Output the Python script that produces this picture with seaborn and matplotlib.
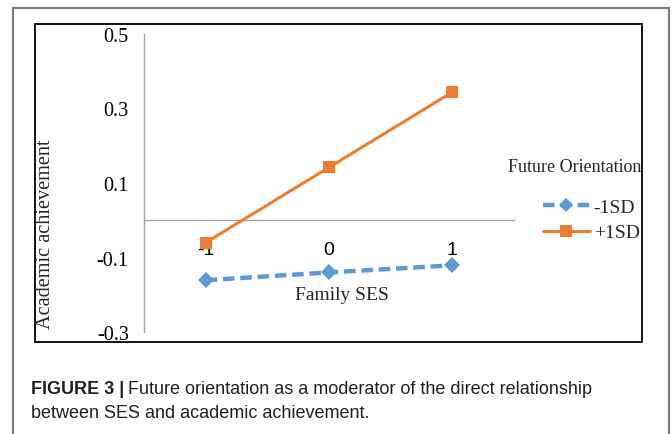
import pandas as pd
import matplotlib
matplotlib.use("Agg")
import matplotlib.pyplot as plt
import seaborn as sns
from matplotlib.patches import Rectangle
from matplotlib.lines import Line2D

# data
family_ses = [-1, 0, 1]
low_fo = [-0.161, -0.140, -0.121]    # -1SD
high_fo = [-0.060, 0.142, 0.344]     # +1SD
series_names = ["-1SD", "+1SD"]
y_ticks = [0.5, 0.3, 0.1, -0.1, -0.3]
y_tick_labels = ["0.5", "0.3", "0.1", "-0.1", "-0.3"]

blue = "#5B9BD5"
orange = "#ED7D31"
axis_gray = "#A6A6A6"

df = pd.DataFrame({
    "ses": family_ses * 2,
    "ach": low_fo + high_fo,
    "group": [series_names[0]] * 3 + [series_names[1]] * 3,
})

sns.set_theme(style="white")
serif = ["Liberation Serif", "DejaVu Serif"]
sans = ["Liberation Sans", "DejaVu Sans"]

W, H = 672, 435
fig = plt.figure(figsize=(W / 100, H / 100), dpi=100)
fig.patch.set_facecolor("white")

def fx(px):
    return px / W

def fy(py):
    return 1 - py / H

# axes placed in pixels: x -1.5..1.5 -> 144..514, y -0.3..0.5 -> 333..35
ax = fig.add_axes([fx(144), fy(333), fx(514) - fx(144), (333 - 35) / H])
ax.set_facecolor("none")

sns.lineplot(data=df[df.group == "-1SD"], x="ses", y="ach", ax=ax,
             color=blue, lw=3.2, marker="D", markersize=8,
             markeredgewidth=0, legend=False)
ax.lines[-1].set_dashes((2.6, 1.3))
sns.lineplot(data=df[df.group == "+1SD"], x="ses", y="ach", ax=ax,
             color=orange, lw=2.2, marker="s", markersize=9,
             markeredgewidth=0, legend=False)

ax.set_xlim(-1.5, 1.5)
ax.set_ylim(-0.3, 0.5)
ax.set_xlabel("")
ax.set_ylabel("")

for s in ["top", "right"]:
    ax.spines[s].set_visible(False)
ax.spines["left"].set_color(axis_gray)
ax.spines["left"].set_linewidth(1.0)
ax.spines["bottom"].set_position(("data", 0))
ax.spines["bottom"].set_color(axis_gray)
ax.spines["bottom"].set_linewidth(1.0)
ax.spines["bottom"].set_zorder(0)

ax.set_xticks(family_ses)
ax.set_xticklabels([str(v) for v in family_ses], family=sans, fontsize=14)
ax.set_yticks(y_ticks)
ax.set_yticklabels(y_tick_labels, family=serif, fontsize=14.5)
ax.tick_params(axis="x", length=0, pad=15, colors="black")
ax.tick_params(axis="y", length=0, pad=11, colors="black")
ax.grid(False)

fig.text(fx(342), fy(296), "Family SES", family=serif, fontsize=14,
         ha="center", va="center")
fig.text(fx(46), fy(234), "Academic achievement", family=serif, fontsize=14.6,
         rotation=90, ha="center", va="center")

# legend
fig.text(fx(641), fy(168), "Future Orientation", family=serif, fontsize=13,
         ha="right", va="center")
handles = [
    Line2D([0], [0], color=blue, lw=3.2, dashes=(2.6, 1.3), marker="D",
           markersize=7, markeredgewidth=0),
    Line2D([0], [0], color=orange, lw=2.2, marker="s", markersize=8,
           markeredgewidth=0),
]
leg = fig.legend(handles, series_names, loc="upper left",
                 bbox_to_anchor=(fx(543), fy(199)), frameon=False,
                 prop={"family": serif, "size": 14}, handlelength=2.4,
                 handletextpad=0.2, labelspacing=0.42, borderaxespad=0,
                 borderpad=0)

# chart frame and outer panel frame
fig.patches.append(Rectangle((fx(35), fy(343)), fx(642) - fx(35), (343 - 25) / H,
                             transform=fig.transFigure, fill=False,
                             edgecolor="black", lw=1.3))
fig.patches.append(Rectangle((fx(13), fy(445)), fx(669) - fx(13), (445 - 9) / H,
                             transform=fig.transFigure, fill=False,
                             edgecolor="#7F7F7F", lw=1.6))

# caption
cap_font = {"family": sans, "fontsize": 13}
t1 = fig.text(fx(31), fy(390), "FIGURE 3 |", fontweight="bold", va="center",
              color="#231F20", **cap_font)
fig.canvas.draw()
bb = t1.get_window_extent()
fig.text(bb.x1 / W + fx(4), fy(390),
         "Future orientation as a moderator of the direct relationship",
         va="center", color="#231F20", **cap_font)
fig.text(fx(31), fy(414), "between SES and academic achievement.",
         va="center", color="#231F20", **cap_font)

fig.savefig("out.png", dpi=100, facecolor="white")
